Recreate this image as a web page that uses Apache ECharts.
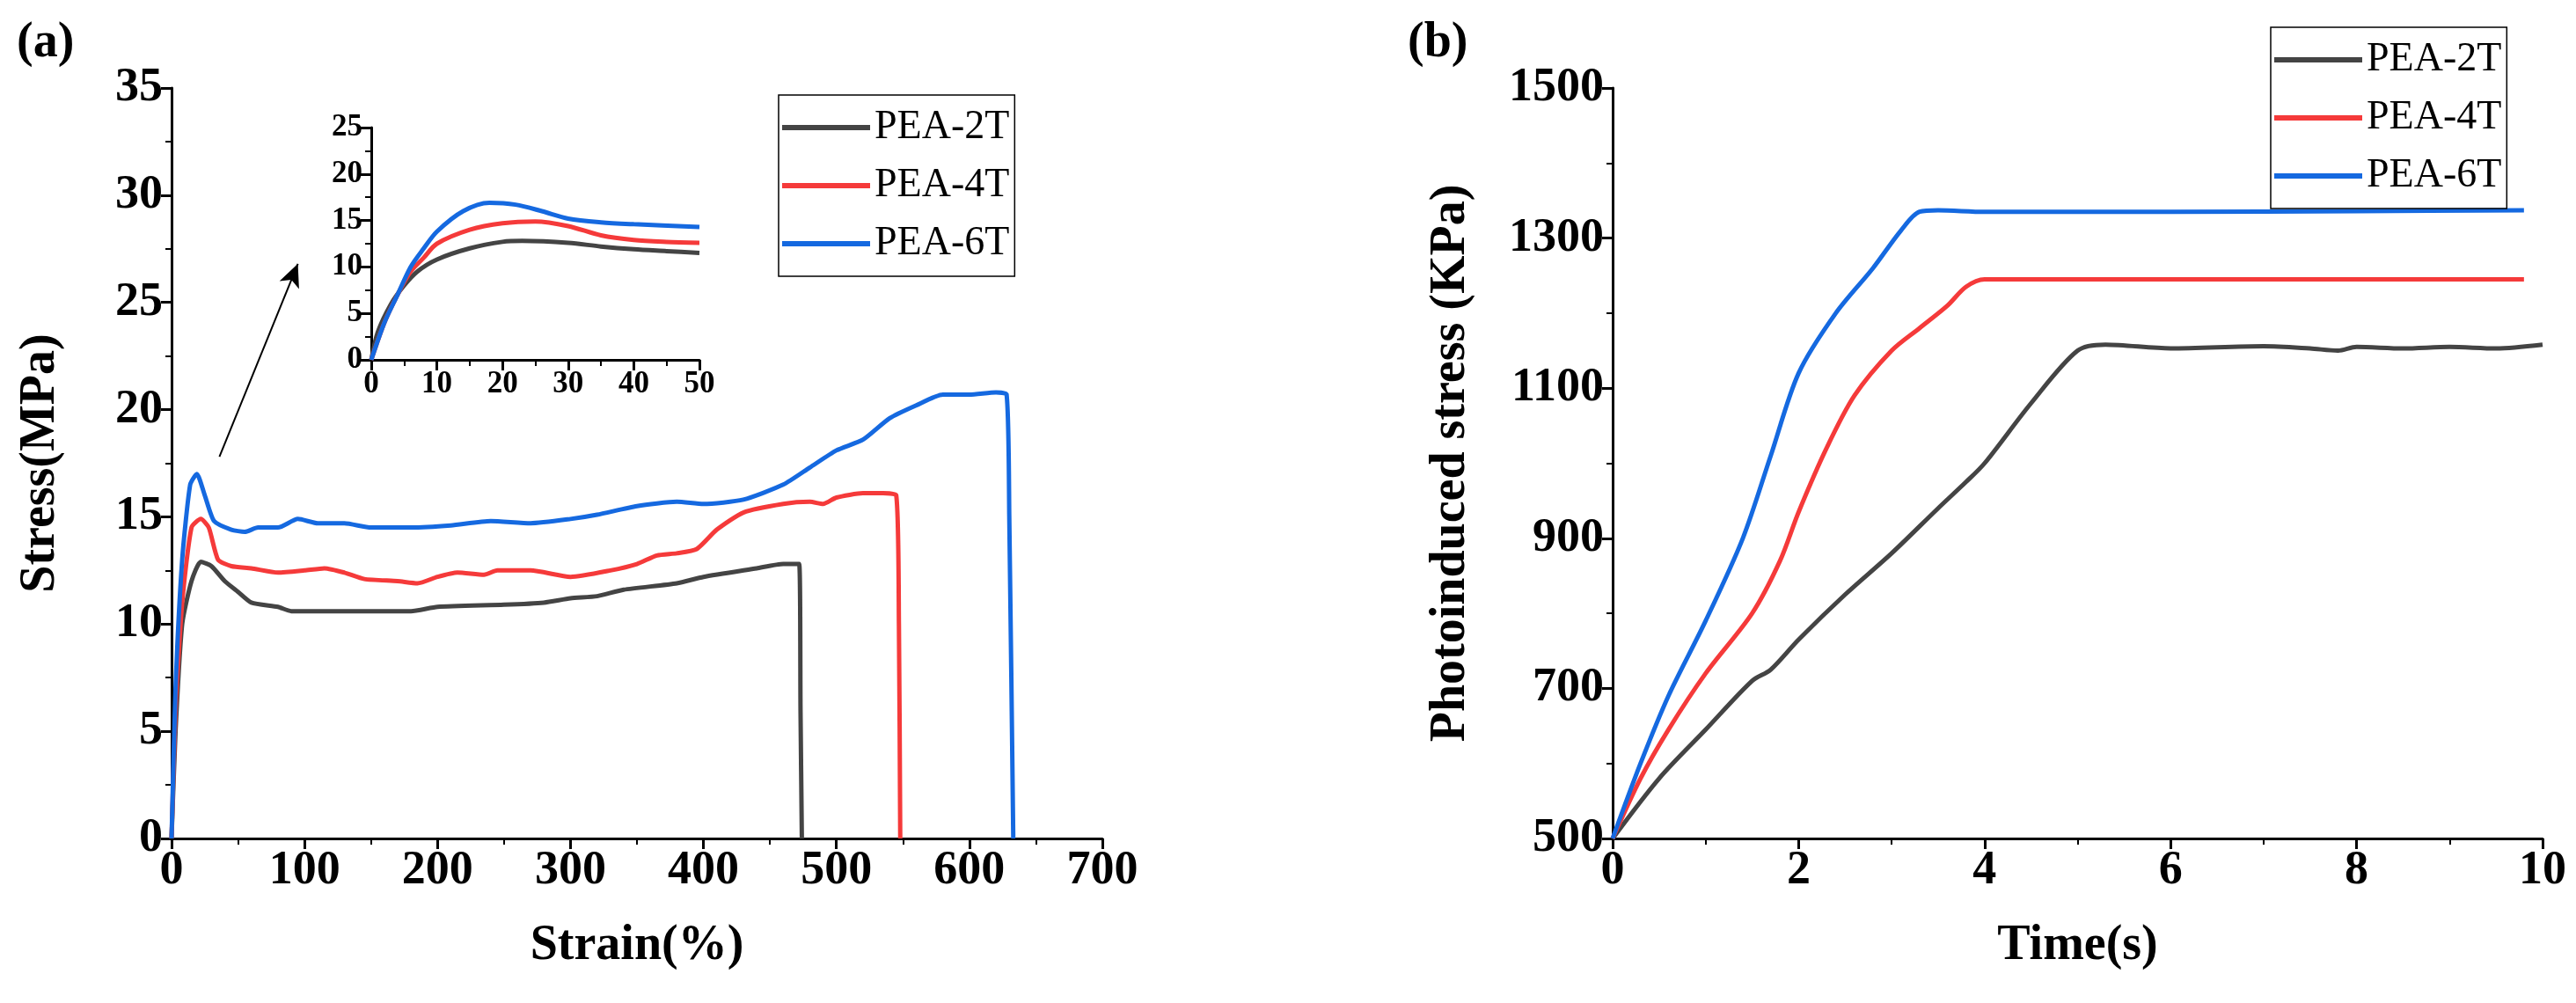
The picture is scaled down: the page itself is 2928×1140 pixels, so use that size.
<!DOCTYPE html>
<html><head><meta charset="utf-8">
<script src="https://cdn.jsdelivr.net/npm/echarts@6/dist/echarts.min.js"></script>
<style>html,body{margin:0;background:#fff}#c{width:2928px;height:1140px}</style>
</head><body><div id="c"></div>
<script>
const names=['PEA-2T','PEA-4T','PEA-6T'];
const colors=['#444444','#f53a3a','#1569e0'];
const a2T=[[0,0],[3,5],[8,10],[15,12],[22,12.9],[30,12.7],[40,12],[50,11.5],[60,11],[80,10.8],[90,10.6],[180,10.6],[200,10.8],[250,10.9],[280,11.0],[300,11.2],[320,11.3],[340,11.6],[380,11.9],[400,12.2],[440,12.6],[460,12.8],[472,12.8],[473,6],[474,0]];
const a4T=[[0,0],[3,6],[8,11],[15,14.5],[22,14.9],[28,14.5],[35,13],[45,12.7],[60,12.6],[80,12.4],[100,12.5],[115,12.6],[130,12.4],[145,12.1],[170,12],[185,11.9],[200,12.2],[215,12.4],[235,12.3],[245,12.5],[270,12.5],[300,12.2],[330,12.5],[350,12.8],[365,13.2],[380,13.3],[395,13.5],[410,14.4],[430,15.2],[460,15.6],[480,15.7],[490,15.6],[500,15.9],[520,16.1],[535,16.1],[545,16],[547,10],[548,0]];
const a6T=[[0,0],[3,7],[8,13],[14,16.5],[19,17],[25,16],[32,14.8],[45,14.4],[55,14.3],[65,14.5],[80,14.5],[95,14.9],[110,14.7],[130,14.7],[150,14.5],[180,14.5],[210,14.6],[240,14.8],[270,14.7],[300,14.9],[320,15.1],[350,15.5],[380,15.7],[400,15.6],[430,15.8],[460,16.5],[480,17.3],[500,18.1],[520,18.6],[540,19.6],[560,20.2],[580,20.7],[600,20.7],[620,20.8],[628,20.7],[630,15],[633,0]];
const i2T=[[0,0],[1,3],[3,6],[5,8],[7,9.5],[10,10.8],[15,12],[20,12.7],[23,12.8],[30,12.6],[35,12.2],[40,11.9],[45,11.7],[50,11.5]];
const i4T=[[0,0],[2,4],[4,7],[6,9.5],[8,11],[10,12.5],[15,14],[20,14.7],[25,14.9],[30,14.4],[35,13.4],[40,12.9],[45,12.7],[50,12.6]];
const i6T=[[0,0],[2,4],[4,7],[6,10],[8,12],[10,13.8],[14,16],[18,16.9],[22,16.7],[26,16],[30,15.2],[35,14.8],[40,14.6],[50,14.3]];
const b2T=[[0,500],[0.5,580],[1,645],[1.5,710],[1.7,725],[2,765],[2.5,825],[3,880],[3.5,940],[3.8,975],[4,1000],[4.5,1080],[5,1150],[5.3,1158],[6,1153],[7,1156],[7.5,1153],[7.8,1150],[8,1155],[8.5,1153],[9,1155],[9.5,1153],[10,1158]];
const b4T=[[0,500],[0.3,580],[0.6,645],[1,720],[1.5,800],[1.8,870],[2,935],[2.3,1020],[2.6,1090],[3,1150],[3.3,1180],[3.6,1210],[3.8,1235],[4,1245],[5,1245],[6,1245],[7,1245],[8,1245],[9,1245],[9.8,1245]];
const b6T=[[0,500],[0.3,600],[0.6,690],[1,790],[1.4,900],[1.7,1010],[2,1120],[2.4,1200],[2.8,1260],[3.1,1310],[3.3,1335],[3.5,1337],[4,1335],[6,1335],[8,1336],[9.8,1337]];
const arrow=[[36,17.8],[95,26.8]];
const F='"Liberation Serif","Times New Roman",serif';
function ax(min,max,interval,fs,name,gap,extra){return Object.assign({type:'value',min,max,interval,name,nameLocation:'middle',nameGap:gap,
 nameTextStyle:{fontFamily:F,fontWeight:'bold',fontSize:56,color:'#000'},
 axisLine:{show:true,onZero:false,lineStyle:{color:'#000',width:3}},
 axisTick:{show:true,length:12,lineStyle:{color:'#000',width:3}},
 minorTick:{show:true,splitNumber:2,length:7,lineStyle:{color:'#000',width:2}},
 axisLabel:{fontFamily:F,fontWeight:'bold',fontSize:fs,color:'#000',margin:10,formatter:v=>String(v)},
 splitLine:{show:false}},extra||{});}
const grids=[{left:195,right:2928-1253,top:100,bottom:1140-953},{left:422,right:2928-795,top:145,bottom:1140-409},{left:1833,right:2928-2890,top:100,bottom:1140-953}];
function s(i,data,xi,extra){return Object.assign({type:'line',name:names[i],data,xAxisIndex:xi,yAxisIndex:xi,showSymbol:false,smooth:0.3,lineStyle:{color:colors[i],width:5},itemStyle:{color:colors[i]},z:3},extra||{});}
const leg={data:names,orient:'vertical',itemWidth:100,itemHeight:6,itemGap:20,padding:[14,6,14,4],borderColor:'#000',borderWidth:1.5,
   icon:'rect',textStyle:{fontFamily:F,fontSize:46,color:'#000'}};
const opt={animation:false,
 grid:grids,
 xAxis:[ax(0,700,100,54,'Strain(%)',95,{gridIndex:0}),ax(0,50,10,35,'',0,{gridIndex:1}),ax(0,10,2,54,'Time(s)',95,{gridIndex:2})],
 yAxis:[ax(0,35,5,54,'Stress(MPa)',120,{gridIndex:0}),ax(0,25,5,35,'',0,{gridIndex:1}),ax(500,1500,200,54,'Photoinduced stress (KPa)',155,{gridIndex:2})],
 legend:[Object.assign({left:885,top:108},leg),Object.assign({left:2581,top:31},leg)],
 graphic:[{type:'text',left:19,top:22,style:{text:'(a)',font:'bold 56px '+F,fill:'#000'}},
  {type:'text',left:1600,top:22,style:{text:'(b)',font:'bold 56px '+F,fill:'#000'}}],
 series:[s(0,a2T,0,{smooth:0.2}),s(1,a4T,0,{smooth:0.2}),s(2,a6T,0,{smooth:0.2,markLine:{silent:true,symbol:['none','arrow'],symbolSize:[18,26],label:{show:false},lineStyle:{color:'#000',width:2,type:'solid'},data:[[{coord:arrow[0]},{coord:arrow[1]}]]}}),
  s(0,i2T,1),s(1,i4T,1),s(2,i6T,1),
  s(0,b2T,2),s(1,b4T,2),s(2,b6T,2)]};
echarts.init(document.getElementById('c')).setOption(opt);
</script></body></html>
